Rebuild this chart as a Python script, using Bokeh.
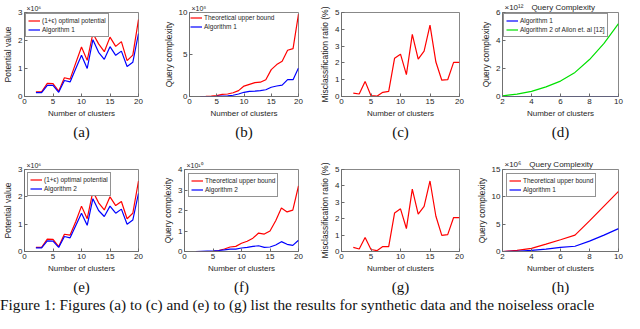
from bokeh.plotting import figure
from bokeh.models import Range1d, FixedTicker, Title, Div
from bokeh.layouts import column, row
from bokeh.embed import file_html
from bokeh.resources import INLINE

# ---------------- data ----------------
clusters = [2, 3, 4, 5, 6, 7, 8, 9, 10, 11, 12, 13, 14, 15, 16, 17, 18, 19, 20]
clusters_small = [2, 3, 4, 5, 6, 7, 8, 9, 10]

# (a) potential value, x1e6
pot_opt_a = [0.17, 0.17, 0.47, 0.46, 0.19, 0.67, 0.62, 1.20, 1.77, 1.29, 2.25, 1.88, 1.60, 2.12, 1.79, 1.96, 1.28, 1.48, 2.75]
pot_alg1_a = [0.14, 0.14, 0.40, 0.40, 0.15, 0.57, 0.52, 1.00, 1.47, 1.00, 2.03, 1.58, 1.33, 1.78, 1.47, 1.62, 1.07, 1.22, 2.25]
# (b) query complexity, x1e8
qc_bound_b = [0.00, 0.02, 0.05, 0.10, 0.25, 0.30, 0.45, 0.70, 1.24, 1.45, 1.65, 1.70, 2.00, 3.20, 3.80, 4.20, 5.50, 5.70, 9.80]
qc_alg1_b = [0.00, 0.00, 0.00, 0.02, 0.05, 0.08, 0.15, 0.30, 0.50, 0.62, 0.65, 0.70, 0.80, 1.10, 1.25, 1.35, 2.00, 2.00, 3.40]
# (c) misclassification ratio (%)
mis_c = [0.20, 0.15, 0.90, 0.05, 0.02, 0.25, 0.30, 2.28, 2.52, 1.30, 3.70, 2.22, 2.70, 4.25, 2.05, 0.97, 1.00, 2.03, 2.03]
# (d) query complexity, x1e12
qc_alg1_d = [0.00, 0.00, 0.00, 0.00, 0.00, 0.00, 0.00, 0.00, 0.00]
qc_ailon_d = [0.05, 0.17, 0.37, 0.69, 1.10, 1.72, 2.64, 3.79, 5.20]
# (e) potential value, x1e6
pot_opt_e = [0.15, 0.15, 0.45, 0.44, 0.18, 0.63, 0.60, 1.10, 1.66, 1.20, 2.20, 1.78, 1.52, 2.00, 1.68, 1.83, 1.20, 1.40, 2.58]
pot_alg2_e = [0.13, 0.13, 0.39, 0.38, 0.15, 0.55, 0.50, 0.95, 1.40, 0.96, 1.93, 1.50, 1.28, 1.66, 1.40, 1.55, 1.00, 1.15, 2.13]
# (f) query complexity, x1e10
qc_bound_f = [0.00, 0.00, 0.00, 0.01, 0.05, 0.12, 0.22, 0.25, 0.40, 0.50, 0.65, 0.90, 0.85, 1.00, 1.50, 2.12, 1.93, 2.02, 3.20]
qc_alg2_f = [0.00, 0.01, 0.02, 0.03, 0.05, 0.08, 0.12, 0.12, 0.17, 0.20, 0.25, 0.28, 0.20, 0.22, 0.32, 0.48, 0.35, 0.30, 0.55]
# (g) misclassification ratio (%)
mis_g = [0.25, 0.15, 0.85, 0.12, 0.05, 0.30, 0.30, 2.35, 2.60, 1.40, 3.80, 2.28, 2.75, 4.30, 2.15, 0.98, 1.03, 2.07, 2.07]
# (h) query complexity, x1e6
qc_bound_h = [0.00, 0.20, 0.57, 1.35, 2.15, 3.00, 5.60, 8.30, 11.00]
qc_alg1_h = [0.00, 0.05, 0.20, 0.45, 0.75, 0.96, 1.90, 3.00, 4.19]

ticks_20 = [0, 5, 10, 15, 20]
ticks_10 = [2, 4, 6, 8, 10]

caption = ("Figure 1: Figures (a) to (c) and (e) to (g) list the results for synthetic data "
           "and the noiseless oracle")

SANS = "Liberation Sans"
SERIF = "Liberation Serif"
AX = "#262626"
BOX = "#6a6a6a"
RED = "#ff0000"
BLUE = "#0000ff"
GREEN = "#00e000"


def panel(width, height, left, right, top, bottom, xr, yr, xticks, yticks,
          ylabel, exponent, sub, title=None):
    p = figure(width=width, height=height, output_backend="svg", toolbar_location=None,
               x_range=Range1d(*xr), y_range=Range1d(*yr),
               min_border_left=left, min_border_right=right,
               min_border_top=top, min_border_bottom=bottom)
    p.grid.visible = False
    p.outline_line_color = BOX
    p.outline_line_width = 0.8
    p.xaxis.ticker = FixedTicker(ticks=xticks)
    p.yaxis.ticker = FixedTicker(ticks=yticks)
    p.xaxis.axis_label = "Number of clusters"
    p.yaxis.axis_label = ylabel
    for ax in (p.xaxis, p.yaxis):
        ax.axis_line_color = BOX
        ax.axis_line_width = 0.8
        ax.major_tick_line_color = BOX
        ax.major_tick_in = 3
        ax.major_tick_out = 0
        ax.minor_tick_line_color = None
        ax.major_label_text_font = SANS
        ax.major_label_text_font_size = "8px"
        ax.major_label_text_color = AX
        ax.major_label_standoff = 2
        ax.axis_label_text_font = SANS
        ax.axis_label_text_font_style = "normal"
        ax.axis_label_text_color = AX
        ax.axis_label_standoff = 2
    p.xaxis.axis_label_text_font_size = "8px"
    p.yaxis.axis_label_text_font_size = "8.5px"
    if title is not None:
        head = exponent + "\u2002\u2002" + title
        p.add_layout(Title(text=head, align="left", offset=2, text_font=SANS,
                           text_font_size="8px", text_font_style="normal",
                           text_color=AX, standoff=1), "above")
    elif exponent:
        p.add_layout(Title(text=exponent, align="left", offset=2, text_font=SANS,
                           text_font_size="7px", text_font_style="normal",
                           text_color=AX, standoff=1), "above")
    p.add_layout(Title(text=sub, align="center", text_font=SERIF, text_font_size="15px",
                       text_font_style="normal", text_color="#111111", standoff=2), "below")
    return p


def style_legend(p, margin=1):
    lg = p.legend[0]
    lg.location = "top_left"
    lg.margin = margin
    lg.padding = 2
    lg.spacing = 0
    lg.border_line_color = AX
    lg.border_line_width = 0.7
    lg.background_fill_alpha = 1
    lg.label_text_font = SANS
    lg.label_text_font_size = "6.5px"
    lg.label_text_color = AX
    lg.glyph_width = 12
    lg.glyph_height = 9
    lg.label_height = 9
    lg.label_standoff = 2


LW = 1.2
H1 = 141
H2 = 155
HC = 313 - H1 - H2

# ---- row 1 ----
pa = panel(160, H1, 21, 22, 10, 45, (0, 20), (0, 3), ticks_20, [0, 1, 2, 3],
           "Potential value", "×10⁶", "(a)")
pa.line(clusters, pot_opt_a, color=RED, line_width=LW, legend_label="(1+ϵ) optimal potential")
pa.line(clusters, pot_alg1_a, color=BLUE, line_width=LW, legend_label="Algorithm 1")
style_legend(pa)

pb = panel(156, H1, 21, 18, 10, 45, (0, 20), (0, 10), ticks_20, [0, 5, 10],
           "Query complexity", "×10⁸", "(b)")
pb.line(clusters, qc_bound_b, color=RED, line_width=LW, legend_label="Theoretical upper bound")
pb.line(clusters, qc_alg1_b, color=BLUE, line_width=LW, legend_label="Algorithm 1")
style_legend(pb)
pb.legend[0].border_line_color = None

pc = panel(156, H1, 25, 13, 8, 45, (0, 20), (0, 5), ticks_20, [0, 1, 2, 3, 4, 5],
           "Misclassification ratio (%)", None, "(c)")
pc.line(clusters, mis_c, color=RED, line_width=LW)

pd = panel(152, H1, 30, 6, 12, 45, (2, 10), (0, 6), ticks_10, [0, 2, 4, 6],
           "Query complexity", "×10¹²", "(d)", title="Query Complexity")
pd.line(clusters_small, qc_alg1_d, color=BLUE, line_width=LW, legend_label="Algorithm 1")
pd.line(clusters_small, qc_ailon_d, color=GREEN, line_width=LW,
        legend_label="Algorithm 2 of Ailon et. al [12]")
style_legend(pd)

# ---- row 2 ----
pe = panel(160, H2, 21, 22, 26, 45, (0, 20), (0, 3), ticks_20, [0, 1, 2, 3],
           "Potential value", "×10⁶", "(e)")
pe.line(clusters, pot_opt_e, color=RED, line_width=LW, legend_label="(1+ϵ) optimal potential")
pe.line(clusters, pot_alg2_e, color=BLUE, line_width=LW, legend_label="Algorithm 2")
style_legend(pe, margin=3)

pf = panel(156, H2, 21, 18, 26, 45, (0, 20), (0, 4), ticks_20, [0, 1, 2, 3, 4],
           "Query complexity", "×10¹⁰", "(f)")
pf.line(clusters, qc_bound_f, color=RED, line_width=LW, legend_label="Theoretical upper bound")
pf.line(clusters, qc_alg2_f, color=BLUE, line_width=LW, legend_label="Algorithm 2")
style_legend(pf, margin=4)

pg = panel(156, H2, 25, 13, 24, 45, (0, 20), (0, 5), ticks_20, [0, 1, 2, 3, 4, 5],
           "Misclassification ratio (%)", None, "(g)")
pg.line(clusters, mis_g, color=RED, line_width=LW)

ph = panel(152, H2, 30, 6, 28, 45, (2, 10), (0, 15), ticks_10, [0, 5, 10, 15],
           "Query complexity", "×10⁶", "(h)", title="Query Complexity")
ph.line(clusters_small, qc_bound_h, color=RED, line_width=LW, legend_label="Theoretical upper bound")
ph.line(clusters_small, qc_alg1_h, color=BLUE, line_width=LW, legend_label="Algorithm 1")
style_legend(ph, margin=4)

cap = Div(text=caption, width=624, height=HC, margin=(0, 0, 0, 0),
          styles={"font-family": SERIF, "font-size": "15.3px", "white-space": "nowrap",
                  "overflow": "hidden", "line-height": "%dpx" % HC, "color": "#111111"})

layout = column(row(pa, pb, pc, pd), row(pe, pf, pg, ph), cap)

open("out.html", "w").write(file_html(layout, INLINE))
